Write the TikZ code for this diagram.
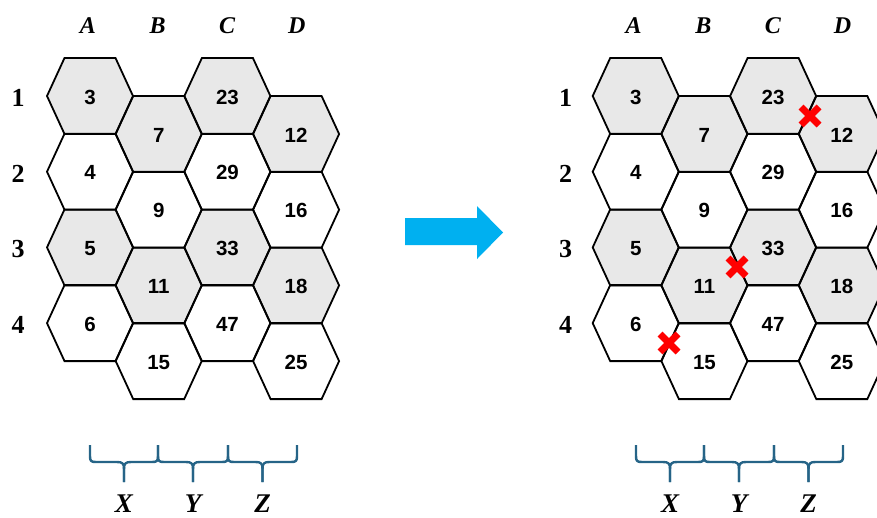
\documentclass[tikz,border=0pt]{standalone}
\usepackage{fontspec}
\setmainfont{Liberation Serif}
\newfontfamily\cellfont{Liberation Sans}
\definecolor{cellgray}{RGB}{232,232,232}
\definecolor{bracecol}{RGB}{38,100,135}
\definecolor{arrowcyan}{RGB}{0,176,240}
\definecolor{crossred}{RGB}{255,0,0}

% flat-topped hexagon around (#1,#2), y axis pointing down
\newcommand\hexpath[2]{(#1-43,#2) -- (#1-25.5,#2-38) -- (#1+25.5,#2-38) -- (#1+43,#2) -- (#1+25.5,#2+38) -- (#1-25.5,#2+38) -- cycle}
% one brace: ends #1 and #2, tip at #3
\newcommand\bracepiece[3]{%
  \draw[bracestyle] (#1,445) -- (#1,456) .. controls (#1,461) and (#1+1,462) .. (#1+6,462) -- (#3-7,462) .. controls (#3-1.5,462) and (#3,463.5) .. (#3,469) -- (#3,482);
  \draw[bracestyle] (#2,445) -- (#2,456) .. controls (#2,461) and (#2-1,462) .. (#2-6,462) -- (#3+7,462) .. controls (#3+1.5,462) and (#3,463.5) .. (#3,469) -- (#3,482);}

\begin{document}
\begin{tikzpicture}[x=1pt,y=-1pt,
  hexline/.style={draw=black,line width=1.8pt,line join=miter},
  cellnum/.style={font=\cellfont\bfseries\fontsize{20.5}{20.5}\selectfont,inner sep=0pt},
  collabel/.style={font=\bfseries\itshape\fontsize{24}{24}\selectfont,inner sep=0pt},
  rowlabel/.style={font=\bfseries\fontsize{26}{26}\selectfont,inner sep=0pt},
  bracelabel/.style={font=\bfseries\itshape\fontsize{27}{27}\selectfont,inner sep=0pt},
  bracestyle/.style={draw=bracecol,line width=2.4pt,line cap=butt,line join=round},
  crossmark/.style={draw=crossred,line width=7pt,line cap=butt}]
\useasboundingbox (0,0) rectangle (877,517);
\clip (0,0) rectangle (877,517);

% two copies of the grid: left and right
\foreach \g/\off in {0/0,1/545.7}{
  % fills first
  \foreach \c/\vals in {0/{3,4,5,6},1/{7,9,11,15},2/{23,29,33,47},3/{12,16,18,25}}{
    \foreach \v [count=\r from 0] in \vals {
      \pgfmathsetmacro\cx{90+68.7*\c+\off}
      \pgfmathsetmacro\cy{96+75.7*\r+38*mod(\c,2)}
      \pgfmathtruncatemacro\shade{mod(\r,2)}
      \ifnum\shade=0 \fill[cellgray] \hexpath{\cx}{\cy}; \else \fill[white] \hexpath{\cx}{\cy}; \fi
    }
  }
  % outlines and numbers
  \foreach \c/\vals in {0/{3,4,5,6},1/{7,9,11,15},2/{23,29,33,47},3/{12,16,18,25}}{
    \foreach \v [count=\r from 0] in \vals {
      \pgfmathsetmacro\cx{90+68.7*\c+\off}
      \pgfmathsetmacro\cy{96+75.7*\r+38*mod(\c,2)}
      \draw[hexline] \hexpath{\cx}{\cy};
      \node[cellnum] (cell-\g-\c-\r) at (\cx,\cy+1) {\v};
    }
  }
  % column and row labels
  \foreach \lab [count=\i from 0] in {A,B,C,D}{
    \node[collabel] (col-\g-\lab) at (88+69.6*\i+\off,26) {\lab};
  }
  \foreach \lab [count=\i from 0] in {1,2,3,4}{
    \node[rowlabel] (row-\g-\lab) at (18+\off+2*\g,98+75.7*\i) {\lab};
  }
}

% braces under the columns
\bracepiece{90}{158}{124}
\bracepiece{158}{228}{193}
\bracepiece{228}{297}{262.5}
\bracepiece{636}{704}{670}
\bracepiece{704}{774}{739}
\bracepiece{774}{843}{808.5}
\node[bracelabel] (lx0) at (124,504) {X};
\node[bracelabel] (ly0) at (193,504) {Y};
\node[bracelabel] (lz0) at (262.5,504) {Z};
\node[bracelabel] (lx1) at (670,504) {X};
\node[bracelabel] (ly1) at (739,504) {Y};
\node[bracelabel] (lz1) at (808.5,504) {Z};

% transition arrow
\fill[arrowcyan] (405,218) -- (477,218) -- (477,206) -- (503,232.5) -- (477,259) -- (477,245) -- (405,245) -- cycle;

% removed links
\foreach \px/\py in {810/116,737/267,669/343}{
  \draw[crossmark] (\px-9,\py-9) -- (\px+9,\py+9);
  \draw[crossmark] (\px-9,\py+9) -- (\px+9,\py-9);
}
\end{tikzpicture}
\end{document}
